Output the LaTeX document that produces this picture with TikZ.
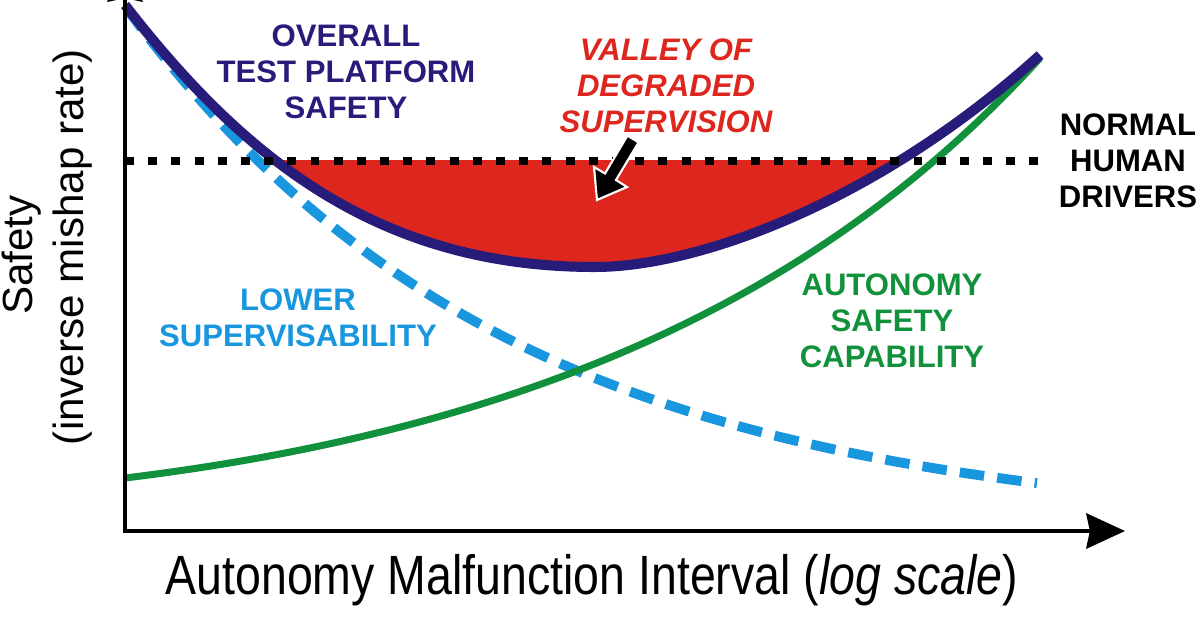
\documentclass[tikz,border=0pt]{standalone}
\usepackage{fontspec}
\setmainfont{Liberation Sans}
\newfontfamily\narrowfont[FakeStretch=0.84]{Liberation Sans}
\usetikzlibrary{arrows.meta}

\definecolor{overallnavy}{RGB}{40,28,122}
\definecolor{valleyred}{RGB}{220,38,30}
\definecolor{supblue}{RGB}{24,150,222}
\definecolor{autogreen}{RGB}{18,145,60}

\tikzset{
    curvelabel/.style={font=\bfseries\fontsize{17.7}{20.4}\selectfont, align=center, inner sep=0pt},
    valleylabel/.style={curvelabel, font=\bfseries\itshape\fontsize{17.7}{20.4}\selectfont},
    axisline/.style={line width=2.3pt, line join=miter, {Stealth[length=22pt,width=20pt,inset=2pt]}-{Stealth[length=22pt,width=20pt,inset=2pt]}},
}

\begin{document}
\begin{tikzpicture}[x=0.02cm,y=-0.02cm]
        \useasboundingbox (0,0) rectangle (1200,630);

        % valley under the human level
        \begin{scope}
            \clip (0,160) rectangle (1200,400);
            \fill[valleyred] (125,5) .. controls (245,160) and (380,267) .. (595,267)
                .. controls (700,267) and (880,200) .. (1040,55) -- cycle;
        \end{scope}

        \draw[supblue, line width=5.6pt, dash pattern=on 14pt off 7.5pt] plot[domain=127:1037, samples=120] (\x, {531-525*exp(-0.00262*(\x-125))});
        \draw[autogreen, line width=4pt] (125,478) .. controls (560,425) and (840,278) .. (1040,58);
        \draw[overallnavy, line width=5.7pt] (125,5) .. controls (245,160) and (380,267) .. (595,267)
            .. controls (700,267) and (880,200) .. (1040,55);

        \draw[line width=5.1pt, dash pattern=on 5.1pt off 8.1pt] (125,161) -- (1050,161);

        % axes
        \coordinate (origin) at (125,531);
        \coordinate (ytop) at (125,-37);
        \coordinate (xend) at (1125,531);
        \draw[axisline] (ytop) -- (origin) -- (xend);

        % arrow into the valley
        \filldraw[fill=black, draw=white, line width=1.2pt] (597,200) -- (627,187) -- (616,180) -- (638.6,142.3) -- (627.4,135.7) -- (605,173.5) -- (594,167) -- cycle;

        \node[curvelabel, text=overallnavy] (overall) at (346,72) {OVERALL\\TEST PLATFORM\\SAFETY};
        \node[valleylabel, text=valleyred] (valley) at (666,86) {VALLEY OF\\DEGRADED\\SUPERVISION};
        \node[curvelabel, text=black] (human) at (1128,161) {NORMAL\\HUMAN\\DRIVERS};
        \node[curvelabel, text=supblue] (lowersup) at (298,318) {LOWER\\SUPERVISABILITY};
        \node[curvelabel, text=autogreen] (autosafe) at (892,321) {AUTONOMY\\SAFETY\\CAPABILITY};

        \node[font=\narrowfont\fontsize{31.5}{36}\selectfont] (xlabel) at (592,580) {Autonomy Malfunction Interval (\textit{log scale})};
        \node[font=\fontsize{24}{28}\selectfont, rotate=90] (ylabel) at (22,255) {Safety};
        \node[font=\fontsize{24}{28}\selectfont, rotate=90] (ylabelsub) at (73,247) {(inverse mishap rate)};

\end{tikzpicture}
\end{document}
